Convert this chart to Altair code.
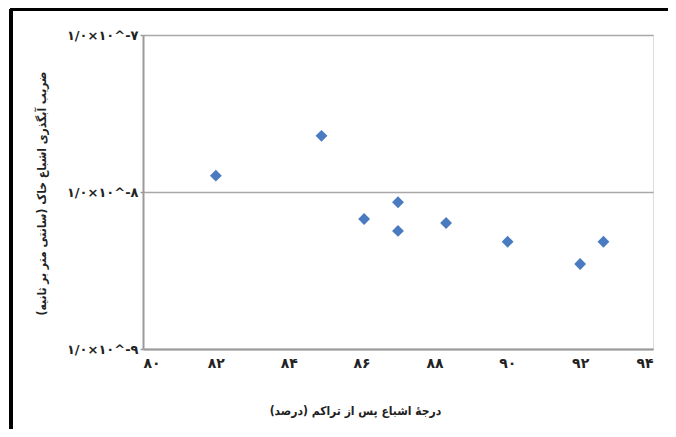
import altair as alt
import pandas as pd

# saturation degree after compaction (%) and saturated hydraulic conductivity (cm/s)
saturation = [82.0, 84.9, 86.07, 87.0, 87.0, 88.32, 90.01, 92.0, 92.64]
conductivity = [1.27e-8, 2.28e-8, 6.73e-9, 8.6e-9, 5.65e-9, 6.35e-9, 4.82e-9, 3.48e-9, 4.82e-9]

x_ticks = [80, 82, 84, 86, 88, 90, 92, 94]
x_tick_labels = ["۸۰", "۸۲", "۸۴", "۸۶", "۸۸", "۹۰", "۹۲", "۹۴"]
y_ticks = [1e-9, 1e-8, 1e-7]
y_tick_labels = ["۱/۰×۱۰^-۹", "۱/۰×۱۰^-۸", "۱/۰×۱۰^-۷"]

x_title = "\u200fدرجهٔ اشباع پس از تراکم (درصد)\u200f"
y_title = "\u200fضریب آبگذری اشباع خاک (سانتی متر بر ثانیه)\u200f"

df = pd.DataFrame({"x": saturation, "y": conductivity})

FONT = "DejaVu Sans"
TITLE_FONT = "DejaVu Sans Condensed"
W, H = 510, 314
PAD_L, PAD_T = 135, 27

x_label_expr = " : ".join(
    f"datum.value == {v} ? '{l}'" for v, l in zip(x_ticks, x_tick_labels)
) + " : ''"
y_label_expr = (
    f"datum.value < 5e-9 ? '{y_tick_labels[0]}' : "
    f"datum.value < 5e-8 ? '{y_tick_labels[1]}' : '{y_tick_labels[2]}'"
)

points = (
    alt.Chart(df)
    .mark_point(shape="diamond", filled=True, size=140, opacity=1, color="#4a7bc0")
    .encode(
        x=alt.X(
            "x:Q",
            scale=alt.Scale(domain=[80, 94], nice=False, zero=False),
            axis=alt.Axis(
                values=x_ticks,
                labelExpr=x_label_expr,
                title=x_title,
                grid=False,
                ticks=False,
                domainColor="#9a9a9a",
                domainWidth=2,
                labelFont=FONT,
                labelFontSize=14,
                labelFontWeight="bold",
                labelColor="#222",
                labelPadding=7,
                titleFont=TITLE_FONT,
                titleFontSize=12,
                titleFontWeight="bold",
                titleColor="#222",
                titleX=212,
                titleY=61,
                titleAlign="center",
                titleBaseline="middle",
            ),
        ),
        y=alt.Y(
            "y:Q",
            scale=alt.Scale(type="log", domain=[1e-9, 1e-7], nice=False),
            axis=alt.Axis(
                values=y_ticks,
                labelExpr=y_label_expr,
                title=y_title,
                grid=True,
                gridColor="#a8a8a8",
                gridWidth=1.5,
                tickSize=3,
                tickColor="#9a9a9a",
                tickWidth=1.5,
                domainColor="#9a9a9a",
                domainWidth=2,
                labelFont=FONT,
                labelFontSize=13,
                labelFontWeight="bold",
                labelColor="#222",
                labelPadding=2,
                titleFont=TITLE_FONT,
                titleFontSize=12,
                titleFontWeight="bold",
                titleColor="#222",
                titleAngle=-90,
                titleX=-102,
                titleY=158,
                titleAlign="center",
                titleBaseline="middle",
            ),
        ),
    )
)

# black frame lines at the top and left edge of the figure
frame_top = alt.Chart(df).mark_rule(color="black", strokeWidth=3).encode(
    x=alt.value(-PAD_L + 2), x2=alt.value(W + 15), y=alt.value(-PAD_T + 1)
)
frame_left = alt.Chart(df).mark_rule(color="black", strokeWidth=3).encode(
    x=alt.value(-PAD_L + 3), y=alt.value(-PAD_T + 1), y2=alt.value(H + 80)
)

chart = (
    alt.layer(points, frame_top, frame_left)
    .properties(
        width=W,
        height=H,
        autosize=alt.AutoSizeParams(type="none"),
        padding={"left": PAD_L, "top": PAD_T, "right": 15, "bottom": 80},
    )
    .configure_view(stroke="#9a9a9a", strokeWidth=2)
    .configure(background="white")
)

chart.save("out.html", embed_options={"renderer": "svg", "actions": False})
